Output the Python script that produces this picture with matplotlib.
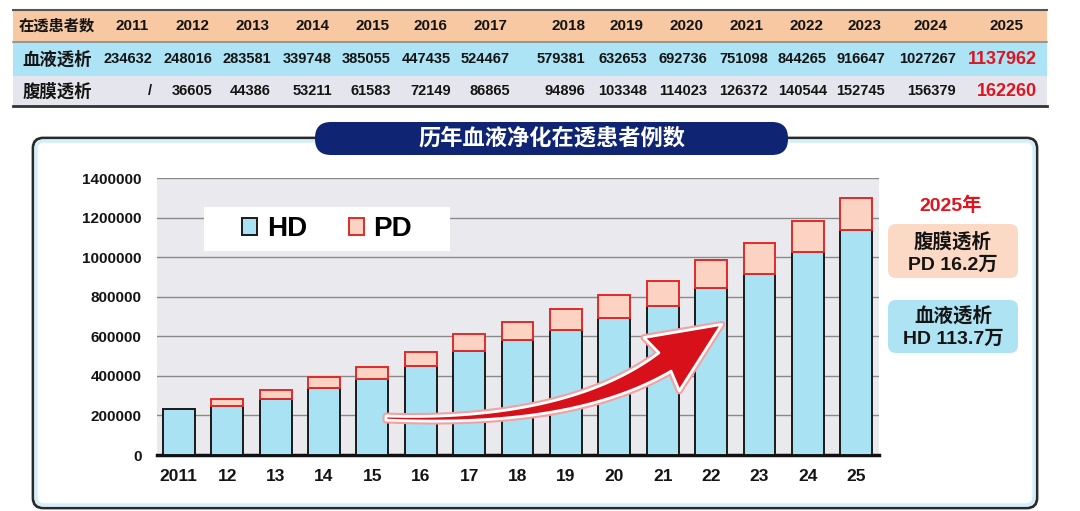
import matplotlib.pyplot as plt
import numpy as np
from matplotlib.patches import FancyBboxPatch, Rectangle, Polygon, Patch

plt.rcParams['font.family'] = ['Liberation Sans', 'Noto Sans CJK SC']
plt.rcParams['font.weight'] = 'bold'

# data (from the table in the picture)
years = ['2011', '2012', '2013', '2014', '2015', '2016', '2017', '2018',
         '2019', '2020', '2021', '2022', '2023', '2024', '2025']
year_ticks = ['2011', '12', '13', '14', '15', '16', '17', '18',
              '19', '20', '21', '22', '23', '24', '25']
hd = [234632, 248016, 283581, 339748, 385055, 447435, 524467, 579381,
      632653, 692736, 751098, 844265, 916647, 1027267, 1137962]
pd_ = [np.nan, 36605, 44386, 53211, 61583, 72149, 86865, 94896,
       103348, 114023, 126372, 140544, 152745, 156379, 162260]
row_labels = ['在透患者数', '血液透析', '腹膜透析']

RED = '#e0141e'
INK = '#141414'

fig = plt.figure(figsize=(10.8, 5.11), dpi=100)

# background layer in pixel coordinates (top-left origin)
bg = fig.add_axes([0, 0, 1, 1], zorder=0)
bg.set_xlim(0, 1080)
bg.set_ylim(511, 0)
bg.axis('off')

# ---- table ----
tx0, tx1 = 13, 1047
bg.add_patch(Rectangle((tx0, 10), tx1 - tx0, 32, fc='#f8c8a2', ec='none'))
bg.add_patch(Rectangle((tx0, 42), tx1 - tx0, 34, fc='#ace3f5', ec='none'))
bg.add_patch(Rectangle((tx0, 76), tx1 - tx0, 30, fc='#e5e5ed', ec='none'))
bg.plot([tx0, tx1], [10, 10], color='#555555', lw=1.5)
bg.plot([tx0, tx1], [42, 42], color='#8a8a8a', lw=1.2)
bg.plot([tx0, tx1], [106, 106], color='#333333', lw=2)

head_x = [132, 192, 252, 312, 372, 430, 490, 568, 627, 687, 747, 807, 865, 930, 1007]
val_right = [152, 212, 271, 332, 391, 451, 510, 585, 647, 707, 768, 827, 885, 956, 1037]

bg.text(57, 26, row_labels[0], ha='center', va='center', fontsize=11, color=INK)
bg.text(57, 59, row_labels[1], ha='center', va='center', fontsize=12.5, color=INK)
bg.text(57, 91, row_labels[2], ha='center', va='center', fontsize=12.5, color=INK)
for i, y in enumerate(years):
    bg.text(head_x[i], 26, y, ha='center', va='center', fontsize=11, color=INK)
    last = i == len(years) - 1
    col = RED if last else INK
    fs = 13 if last else 10.5
    bg.text(val_right[i], 59, str(hd[i]), ha='right', va='center', fontsize=fs, color=col)
    ptxt = '/' if np.isnan(pd_[i]) else str(int(pd_[i]))
    bg.text(val_right[i], 91, ptxt, ha='right', va='center', fontsize=fs, color=col)

# ---- panel ----
bg.add_patch(FancyBboxPatch((33, 138), 1004, 370, boxstyle='round,pad=0,rounding_size=10',
                            fc='white', ec='#2a2a2a', lw=2))
bg.add_patch(FancyBboxPatch((36, 141), 998, 364, boxstyle='round,pad=0,rounding_size=8',
                            fc='none', ec='#d2eff9', lw=2.5))
bg.add_patch(FancyBboxPatch((315, 122), 473, 33, boxstyle='round,pad=0,rounding_size=16',
                            fc='#0f2473', ec='none'))
bg.text(552, 139, '历年血液净化在透患者例数', ha='center', va='center',
        fontsize=16, color='white')

# right-hand notes
bg.text(951, 206, '2025年', ha='center', va='center', fontsize=14, color=RED)
bg.add_patch(FancyBboxPatch((888, 224), 130, 54, boxstyle='round,pad=0,rounding_size=8',
                            fc='#fcd9c5', ec='none'))
bg.text(953, 242, '腹膜透析', ha='center', va='center', fontsize=14, color=INK)
bg.text(953, 265, 'PD 16.2万', ha='center', va='center', fontsize=14, color=INK)
bg.add_patch(FancyBboxPatch((888, 300), 130, 53, boxstyle='round,pad=0,rounding_size=8',
                            fc='#aee3f3', ec='none'))
bg.text(953, 316, '血液透析', ha='center', va='center', fontsize=14, color=INK)
bg.text(953, 339, 'HD 113.7万', ha='center', va='center', fontsize=14, color=INK)

# ---- chart ----
ax = fig.add_axes([157 / 1080, 1 - 455 / 511, 722 / 1080, 277 / 511], zorder=1)
x = np.arange(len(years))
hd_arr = np.array(hd, dtype=float)
pd_arr = np.array(pd_, dtype=float)
ax.set_facecolor('#eaeaee')
ax.bar(x, hd_arr, width=0.66, color='#a9e2f3', edgecolor='#1a1a1a', lw=1.4, zorder=3)
ok = ~np.isnan(pd_arr)
ax.bar(x[ok], pd_arr[ok], bottom=hd_arr[ok], width=0.66, color='#fcd3c2',
       edgecolor='#e02a2a', lw=1.4, zorder=3)

ax.set_xlim(-0.45, 14.47)
ax.set_ylim(0, 1400000)
ax.set_yticks(range(0, 1400001, 200000))
ax.set_yticklabels([str(v) for v in range(0, 1400001, 200000)])
ax.set_xticks(x)
ax.set_xticklabels(year_ticks)
ax.yaxis.grid(True, color='#8a8a8a', lw=1)
ax.set_axisbelow(True)
for s in ['top', 'right', 'left']:
    ax.spines[s].set_visible(False)
ax.spines['bottom'].set_linewidth(2.5)
ax.spines['bottom'].set_color('#111111')
ax.tick_params(axis='y', length=0, pad=11, labelsize=11, labelcolor=INK)
ax.tick_params(axis='x', length=0, pad=10, labelsize=12.5, labelcolor=INK)

# legend on a white box
ax.add_patch(Rectangle((0.0651, 0.7365), 0.3407, 0.1588, transform=ax.transAxes,
                       fc='white', ec='none', zorder=4))
leg = ax.legend(handles=[Patch(fc='#a9e2f3', ec='#1a1a1a', lw=1.4, label='HD'),
                         Patch(fc='#fcd3c2', ec='#e02a2a', lw=1.4, label='PD')],
                loc='center', bbox_to_anchor=(0.2355, 0.816), ncol=2, frameon=False,
                fontsize=20, handlelength=0.55, handleheight=0.55, handletextpad=0.35,
                columnspacing=1.5, borderaxespad=0, borderpad=0)
leg.set_zorder(5)

# ---- red growth arrow (decoration, pixel coordinates) ----
fg = fig.add_axes([0, 0, 1, 1], zorder=2)
fg.set_xlim(0, 1080)
fg.set_ylim(511, 0)
fg.axis('off')
fg.patch.set_alpha(0)

p0 = np.array([386.0, 418.0])
p1 = np.array([570.0, 425.0])
p2 = np.array([665.0, 362.0])
t = np.linspace(0, 1, 60)[:, None]
pts = (1 - t) ** 2 * p0 + 2 * (1 - t) * t * p1 + t ** 2 * p2
der = 2 * (1 - t) * (p1 - p0) + 2 * t * (p2 - p1)
der = der / np.linalg.norm(der, axis=1)[:, None]
nrm = np.column_stack([-der[:, 1], der[:, 0]])
half = (2.0 + 9 * t[:, 0] ** 1.5)[:, None]
left = pts + nrm * half
right = pts - nrm * half
d = der[-1]
n = nrm[-1]
tip = p2 + 68 * d
barb_l = p2 + 32 * n - 4 * d
barb_r = p2 - 32 * n - 4 * d
outline = np.vstack([left, barb_l, tip, barb_r, right[::-1]])
fg.add_patch(Polygon(outline, closed=True, fc='none', ec='#f3a0a0', lw=5, joinstyle='round'))
fg.add_patch(Polygon(outline, closed=True, fc='#d8101a', ec='white', lw=2, joinstyle='round'))

fig.savefig('out.png', dpi=100)
